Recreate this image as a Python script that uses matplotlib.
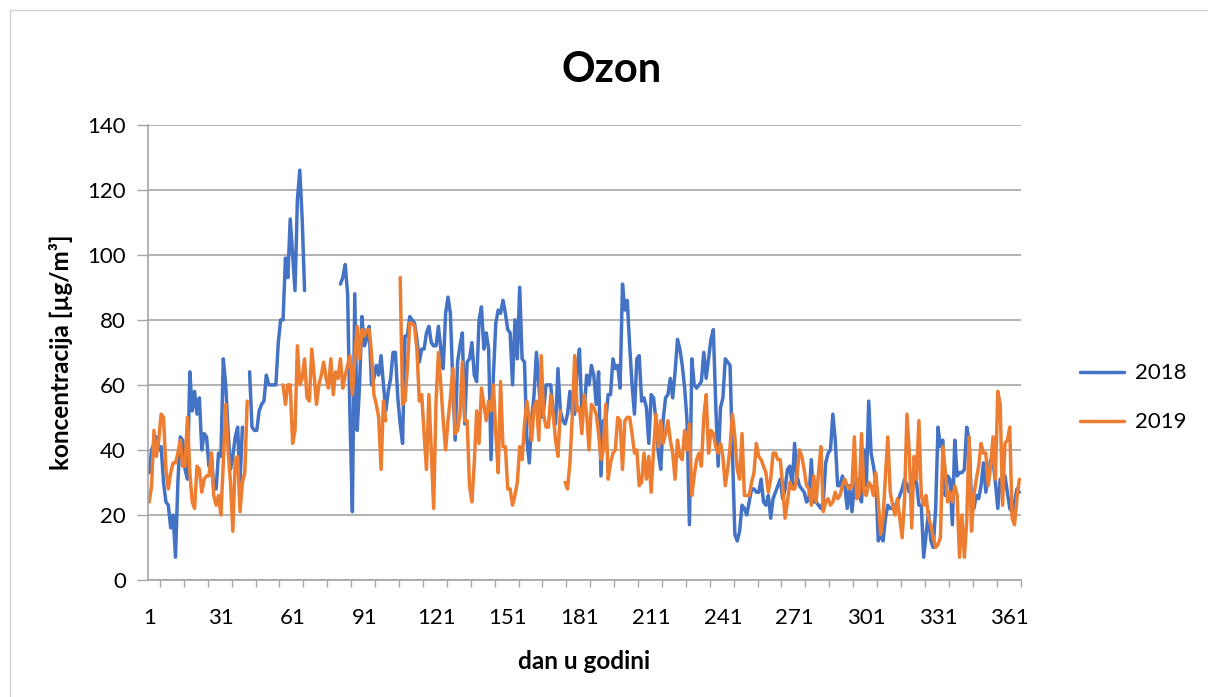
import numpy as np
import matplotlib
matplotlib.use("Agg")
import matplotlib.pyplot as plt
from matplotlib.patches import Rectangle

nan = float("nan")

# daily ozone concentration, day 1..365
ozon_2018 = [
    33, 40, 42, 44, 40, 41, 30, 24, 23, 16,
    20, 7, 30, 44, 43, 34, 31, 64, 52, 58,
    51, 56, 40, 45, 44, 35, 39, 28, 28, 39,
    38, 68, 60, 46, 34, 38, 44, 47, 30, 47,
    nan, nan, 64, 47, 46, 46, 52, 54, 55, 63,
    60, 60, 60, 60, 73, 80, 80, 99, 93, 111,
    100, 89, 117, 126, 111, 89, nan, nan, nan, nan,
    nan, nan, nan, nan, nan, nan, nan, nan, nan, nan,
    91, 93, 97, 88, 50, 21, 88, 46, 60, 81,
    72, 74, 78, 60, 62, 66, 63, 69, 60, 52,
    58, 62, 70, 70, 56, 48, 42, 75, 75, 81,
    80, 79, 74, 67, 71, 71, 76, 78, 73, 72,
    72, 78, 71, 65, 82, 87, 82, 61, 43, 67,
    72, 76, 48, 67, 68, 73, 63, 61, 80, 84,
    71, 76, 71, 37, 63, 79, 83, 82, 86, 82,
    77, 76, 60, 80, 68, 90, 68, 67, 43, 36,
    49, 57, 70, 60, 50, 52, 60, 60, 60, 51,
    48, 65, 52, 49, 48, 51, 58, 51, 51, 65,
    71, 51, 52, 63, 60, 66, 63, 54, 64, 32,
    49, 49, 57, 57, 68, 65, 66, 59, 91, 83,
    86, 72, 60, 51, 68, 69, 55, 56, 53, 42,
    57, 56, 49, 39, 34, 49, 56, 57, 62, 56,
    64, 74, 71, 66, 59, 49, 17, 68, 60, 59,
    60, 61, 70, 62, 68, 74, 77, 54, 35, 53,
    56, 68, 67, 66, 39, 14, 12, 15, 23, 22,
    20, 24, 28, 28, 27, 27, 31, 24, 23, 26,
    19, 25, 27, 29, 31, 25, 28, 34, 35, 29,
    42, 32, 29, 28, 27, 24, 25, 37, 24, 24,
    23, 22, 24, 36, 39, 40, 51, 43, 29, 29,
    32, 29, 22, 29, 21, 29, 31, 26, 24, 40,
    29, 55, 39, 35, 30, 12, 14, 12, 19, 23,
    22, 22, 23, 24, 26, 28, 31, 29, 27, 33,
    32, 30, 23, 23, 7, 14, 21, 12, 10, 22,
    47, 41, 43, 26, 32, 31, 17, 43, 32, 33,
    33, 34, 47, 43, 24, 22, 26, 25, 29, 36,
    27, 33, 37, 37, 30, 22, 31, 31, 32, 27,
    22, 21, 24, 28, 27,
]

ozon_2019 = [
    24, 29, 46, 38, 43, 51, 50, 34, 28, 33,
    36, 36, 39, 43, 35, 35, 50, 33, 24, 22,
    35, 34, 27, 31, 32, 32, 39, 26, 23, 26,
    20, 36, 54, 40, 30, 15, 37, 38, 21, 30,
    33, 55, nan, nan, nan, nan, nan, nan, nan, nan,
    nan, nan, nan, nan, nan, nan, 60, 54, 60, 60,
    42, 46, 72, 60, 62, 68, 56, 55, 71, 63,
    54, 60, 63, 67, 62, 59, 68, 57, 64, 62,
    68, 59, 63, 66, 69, 57, 68, 78, 68, 77,
    75, 77, 77, 70, 57, 54, 50, 34, 55, 49,
    nan, nan, nan, nan, nan, 93, 54, 55, 65, 79,
    79, 78, 71, 55, 57, 45, 34, 57, 40, 22,
    55, 70, 60, 49, 40, 49, 56, 65, 45, 46,
    51, 67, 49, 49, 29, 24, 36, 52, 42, 59,
    54, 49, 55, 52, 60, 45, 33, 61, 41, 41,
    28, 28, 23, 26, 30, 41, 37, 48, 55, 50,
    43, 53, 55, 43, 69, 51, 47, 47, 57, 51,
    43, 38, 52, nan, 30, 28, 36, 50, 69, 52,
    53, 45, 57, 51, 40, 54, 53, 51, 45, 37,
    40, 54, 31, 36, 39, 40, 50, 49, 34, 49,
    50, 50, 45, 39, 40, 29, 30, 39, 31, 38,
    27, 40, 51, 41, 49, 42, 45, 49, 43, 39,
    31, 43, 38, 37, 46, 40, 48, 26, 32, 37,
    39, 35, 50, 57, 39, 46, 45, 41, 39, 42,
    38, 29, 34, 41, 51, 44, 34, 31, 45, 26,
    26, 26, 30, 33, 42, 38, 37, 35, 33, 27,
    31, 39, 39, 37, 37, 29, 19, 24, 30, 28,
    28, 32, 40, 38, 34, 29, 28, 23, 32, 24,
    33, 41, 21, 24, 25, 23, 24, 27, 25, 26,
    29, 31, 29, 28, 29, 44, 25, 26, 45, 27,
    26, 30, 29, 26, 33, 24, 14, 19, 32, 44,
    27, 23, 20, 25, 19, 13, 25, 51, 39, 16,
    38, 31, 49, 26, 23, 26, 19, 17, 13, 10,
    11, 13, 41, 34, 24, 27, 24, 29, 26, 7,
    20, 7, 18, 44, 15, 26, 31, 35, 42, 39,
    39, 29, 35, 44, 31, 58, 54, 23, 42, 43,
    47, 19, 17, 25, 31,
]

day_labels = [1, 31, 61, 91, 121, 151, 181, 211, 241, 271, 301, 331, 361]
y_ticks = [0, 20, 40, 60, 80, 100, 120, 140]

plt.rcParams["font.family"] = ["Lato", "DejaVu Sans"]

fig = plt.figure(figsize=(12.08, 6.97), dpi=100)
ax = fig.add_axes([148/1208, 1 - 580/697, (1020.5 - 148)/1208, (580 - 124.7)/697])

# light chart-area border
fig.patches.append(Rectangle((10/1208, -0.05), 2, 1 - 10/697 + 0.05,
                             transform=fig.transFigure, fill=False,
                             edgecolor="#d0d0d0", linewidth=1.0))

days18 = np.arange(1, len(ozon_2018) + 1)
days19 = np.arange(1, len(ozon_2019) + 1)
ax.plot(days18, ozon_2018, color="#4472C4", lw=2.5, label="2018",
        solid_joinstyle="round", solid_capstyle="round")
ax.plot(days19, ozon_2019, color="#ED7D31", lw=2.5, label="2019",
        solid_joinstyle="round", solid_capstyle="round")

ax.set_xlim(0.5, 365.5)
ax.set_ylim(0, 140)
ax.set_yticks(y_ticks)
ax.set_xticks(day_labels)
ax.set_xticks(np.arange(5.5, 366, 10), minor=True)
ax.tick_params(axis="x", which="major", length=0, pad=20, labelsize=16)
ax.tick_params(axis="x", which="minor", length=5, color="#a6a6a6", width=1)
ax.tick_params(axis="y", length=8, color="#a6a6a6", width=1, pad=8, labelsize=16)

ax.grid(axis="y", color="#a6a6a6", lw=1.2)
ax.set_axisbelow(True)
for s in ["top", "right"]:
    ax.spines[s].set_visible(False)
ax.spines["left"].set_color("#a6a6a6")
ax.spines["bottom"].set_color("#a6a6a6")
ax.spines["left"].set_linewidth(1.2)
ax.spines["bottom"].set_linewidth(1.2)

ax.set_title("Ozon", fontsize=30, fontweight="bold", x=(612 - 148)/872.5, pad=31)
ax.set_xlabel("dan u godini", fontsize=17.5, fontweight="bold", labelpad=16)
ax.set_ylabel("koncentracija [µg/m³]", fontsize=17.5, fontweight="bold", labelpad=10)

ax.legend(loc="center left", bbox_to_anchor=(1.045, 0.40), frameon=False,
          fontsize=16, handlelength=2.0, handletextpad=0.5, labelspacing=1.3)

fig.savefig("out.png", dpi=100)
